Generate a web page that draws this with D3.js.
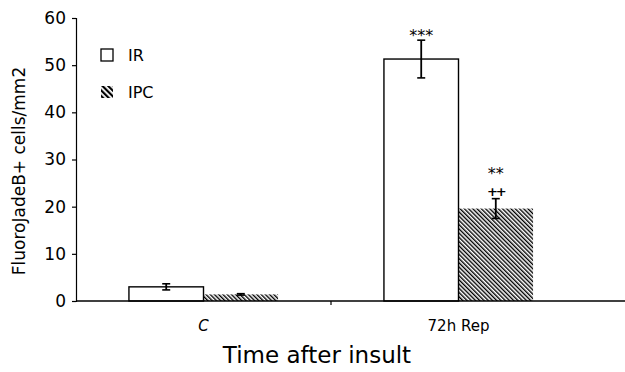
<!DOCTYPE html>
<html>
<head>
<meta charset="utf-8">
<script src="https://cdn.jsdelivr.net/npm/d3@7"></script>
<style>
  body { margin: 0; background: #fff; }
  text { font-family: "DejaVu Sans", sans-serif; fill: #000; }
</style>
</head>
<body>
<div id="chart"></div>
<script>
// data
const categories = ['C', '72h Rep'];
const series = ['IR', 'IPC'];
const irMeans = [3.0, 51.3];
const irErrors = [0.65, 4.0];
const ipcMeans = [1.4, 19.6];
const ipcErrors = [0.15, 2.1];
const irStars = ['', '***'];
const ipcStars = ['', '**'];
const ipcPlus = ['', '++'];
const yTicks = [0, 10, 20, 30, 40, 50, 60];

const width = 625, height = 372;
const margin = {left: 76, top: 18, bottom: 71};

const svg = d3.select('#chart').append('svg')
    .attr('width', width)
    .attr('height', height);

const defs = svg.append('defs');
defs.append('pattern')
    .attr('id', 'hatch')
    .attr('patternUnits', 'userSpaceOnUse')
    .attr('width', 3).attr('height', 3)
    .attr('patternTransform', 'rotate(-45)')
    .append('rect')
    .attr('width', 1.4).attr('height', 3)
    .attr('fill', '#000');
defs.append('pattern')
    .attr('id', 'hatchBig')
    .attr('patternUnits', 'userSpaceOnUse')
    .attr('width', 4).attr('height', 4)
    .attr('patternTransform', 'rotate(-45)')
    .append('rect')
    .attr('width', 2.2).attr('height', 4)
    .attr('fill', '#000');

const x0 = d3.scaleBand()
    .domain(categories)
    .range([margin.left, 586])
    .padding(0);

const x1 = d3.scaleBand()
    .domain(series)
    .range([0, x0.bandwidth()])
    .paddingInner(0)
    .paddingOuter(0.71);

const y = d3.scaleLinear()
    .domain([0, 60])
    .range([height - margin.bottom, margin.top]);

const rows = categories.map((c, i) => ({
    cat: c,
    bars: [
        {key: 'IR', v: irMeans[i], e: irErrors[i], labels: [irStars[i]]},
        {key: 'IPC', v: ipcMeans[i], e: ipcErrors[i], labels: [ipcStars[i], ipcPlus[i]]}
    ]
}));

// y axis
const yAxis = svg.append('g')
    .attr('transform', `translate(${margin.left},0)`)
    .call(d3.axisLeft(y).tickValues(yTicks).tickSize(4).tickPadding(6));
yAxis.select('.domain').attr('stroke', '#000').attr('stroke-width', 1.2);
yAxis.selectAll('.tick line').attr('stroke', '#000').attr('stroke-width', 1.2);
yAxis.selectAll('.tick text').style('font-size', '17px');

// groups
const groups = svg.append('g').selectAll('g')
    .data(rows)
    .join('g')
    .attr('transform', d => `translate(${x0(d.cat)},0)`);

const bars = groups.selectAll('g.bar')
    .data(d => d.bars)
    .join('g')
    .attr('class', 'bar');

bars.append('rect')
    .attr('x', d => x1(d.key))
    .attr('width', x1.bandwidth())
    .attr('y', d => y(d.v))
    .attr('height', d => y(0) - y(d.v))
    .attr('fill', d => d.key === 'IR' ? '#fff' : 'url(#hatch)')
    .attr('stroke', d => d.key === 'IR' ? '#000' : 'none')
    .attr('stroke-width', 1.4);

const cx = d => x1(d.key) + x1.bandwidth() / 2;
const cap = 4;

bars.append('line')
    .attr('x1', cx).attr('x2', cx)
    .attr('y1', d => y(d.v + d.e)).attr('y2', d => y(d.v - d.e))
    .attr('stroke', '#000').attr('stroke-width', 1.8);
bars.append('line')
    .attr('x1', d => cx(d) - cap).attr('x2', d => cx(d) + cap)
    .attr('y1', d => y(d.v + d.e)).attr('y2', d => y(d.v + d.e))
    .attr('stroke', '#000').attr('stroke-width', 1.6);
bars.append('line')
    .attr('x1', d => cx(d) - cap).attr('x2', d => cx(d) + cap)
    .attr('y1', d => y(d.v - d.e)).attr('y2', d => y(d.v - d.e))
    .attr('stroke', '#000').attr('stroke-width', 1.6);

// significance marks
bars.filter(d => d.key === 'IR').append('text')
    .attr('x', cx)
    .attr('y', d => y(d.v + d.e) + 1)
    .attr('text-anchor', 'middle')
    .style('font-size', '16px')
    .text(d => d.labels[0]);
bars.filter(d => d.key === 'IPC').append('text')
    .attr('x', cx)
    .attr('y', d => y(d.v + d.e) - 20)
    .attr('text-anchor', 'middle')
    .style('font-size', '16px')
    .text(d => d.labels[0]);
bars.filter(d => d.key === 'IPC').append('text')
    .attr('x', cx)
    .attr('y', d => y(d.v + d.e) - 3)
    .attr('text-anchor', 'middle')
    .style('font-size', '13px')
    .style('font-weight', 'bold')
    .style('letter-spacing', '-2px')
    .text(d => d.labels[1]);

// x axis
const xAxis = svg.append('g')
    .attr('transform', `translate(0,${y(0)})`);
xAxis.append('line')
    .attr('x1', margin.left).attr('x2', width)
    .attr('stroke', '#000').attr('stroke-width', 1.4);
xAxis.selectAll('line.tick')
    .data(categories.slice(1))
    .join('line')
    .attr('class', 'tick')
    .attr('x1', d => x0(d)).attr('x2', d => x0(d))
    .attr('y1', 0).attr('y2', 4)
    .attr('stroke', '#000').attr('stroke-width', 1.2);
xAxis.selectAll('text')
    .data(categories)
    .join('text')
    .attr('x', d => x0(d) + x0.bandwidth() / 2)
    .attr('y', 30)
    .attr('text-anchor', 'middle')
    .style('font-size', '15px')
    .style('font-style', (d, i) => i === 0 ? 'italic' : 'normal')
    .text(d => d);

// axis titles
svg.append('text')
    .attr('x', 317)
    .attr('y', 363)
    .attr('text-anchor', 'middle')
    .style('font-size', '23px')
    .text('Time after insult');

svg.append('text')
    .attr('transform', `translate(25,${171}) rotate(-90)`)
    .attr('text-anchor', 'middle')
    .style('font-size', '17px')
    .text('FluoroJadeB+ cells/mm2');

// legend
const legend = svg.append('g')
    .selectAll('g')
    .data(series)
    .join('g')
    .attr('transform', (d, i) => `translate(101,${49 + i * 37})`);
legend.append('rect')
    .attr('width', 12).attr('height', 12)
    .attr('fill', d => d === 'IR' ? '#fff' : 'url(#hatchBig)')
    .attr('stroke', d => d === 'IR' ? '#000' : 'none')
    .attr('stroke-width', 1.3);
legend.append('text')
    .attr('x', 27)
    .attr('y', 12)
    .style('font-size', '16px')
    .text(d => d);
</script>
</body>
</html>
